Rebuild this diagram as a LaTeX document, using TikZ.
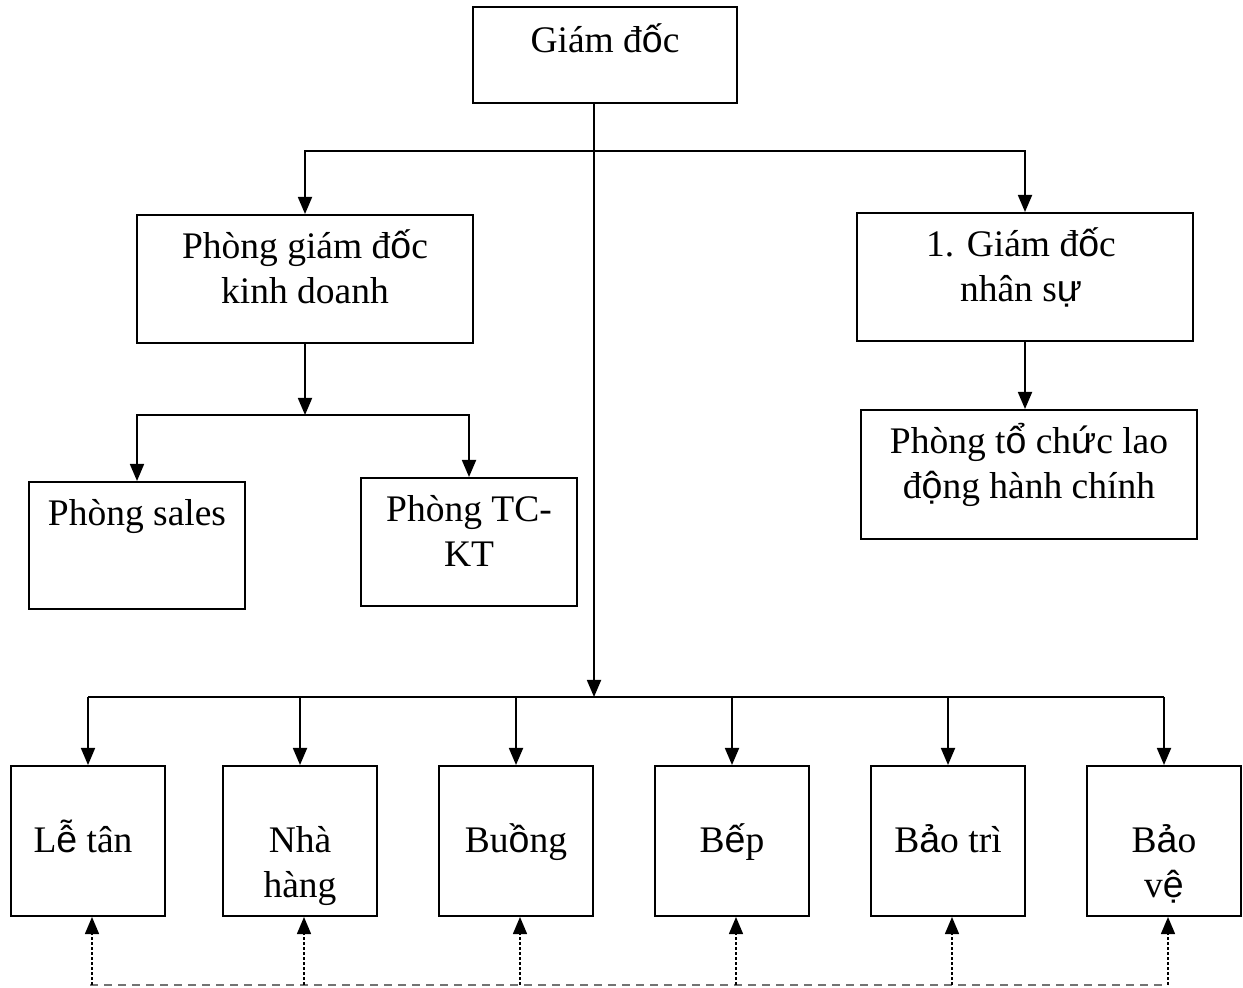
\documentclass[tikz,border=0pt]{standalone}
\usepackage{fontspec}
\setmainfont{Liberation Serif}
\newfontfamily\vnsans{Liberation Sans}
% precomposed vowels come out in the sans face
\newcommand{\vn}[1]{{\vnsans#1}}
\usetikzlibrary{arrows.meta}

\begin{document}
\begin{tikzpicture}[x=0.5pt,y=-0.5pt,>={Triangle[width=7pt,length=8.5pt]},line width=0.9pt]
        \tikzstyle{unit}=[rectangle,draw=black,line width=1pt,inner sep=0pt]
        \tikzstyle{wide}=[unit,minimum width=168pt,minimum height=64pt]
        \tikzstyle{small}=[unit,minimum width=108pt,minimum height=64pt]
        \tikzstyle{dept}=[unit,minimum width=77pt,minimum height=75pt]
        \tikzstyle{caption}=[anchor=base,align=center,inner sep=0pt,font=\fontsize{18.75pt}{22.5pt}\selectfont]
        % base of a two line caption sits on its second line
        \tikzstyle{twolines}=[caption,yshift=-22.5pt]
        \tikzstyle{edge}=[draw,->]
        \tikzstyle{link}=[draw,->,line width=0.7pt,dash pattern=on 1.5pt off 1pt]
        \tikzstyle{rail}=[draw=black!55,line width=0.8pt,dash pattern=on 4pt off 3pt]
        \useasboundingbox (0,0) rectangle (1243,988);
       \begin{scope}
         % boxes
         \node [unit,minimum width=132pt,minimum height=48pt] (gd) at (605,55) {};
         \node [wide] (kd) at (305,279) {};
         \node [wide] (ns) at (1025,277) {};
         \node [unit,minimum width=168pt,minimum height=64.5pt] (hc) at (1029,474.5) {};
         \node [unit,minimum width=108pt,minimum height=63.5pt] (sl) at (137,545.5) {};
         \node [small] (kt) at (469,542) {};
         \node [dept] (b1) at (88,841) {};
         \node [dept] (b2) at (300,841) {};
         \node [dept] (b3) at (516,841) {};
         \node [dept] (b4) at (732,841) {};
         \node [dept] (b5) at (948,841) {};
         \node [dept] (b6) at (1164,841) {};
         % texts
         \node [caption] (gd-t) at ([yshift=-23.5pt]gd.north) {Giám đ\vn{ố}c};
         \node [twolines] (kd-t) at ([yshift=-22.5pt]kd.north) {Phòng giám đ\vn{ố}c\\kinh doanh};
         \node [twolines] (ns-t) at ([yshift=-22.5pt,xshift=-2pt]ns.north) {1. Giám đ\vn{ố}c\\nhân s\vn{ự}};
         \node [twolines] (hc-t) at ([yshift=-22.5pt]hc.north) {Phòng t\vn{ổ} ch\vn{ứ}c lao\\đ\vn{ộ}ng hành chính};
         \node [caption] (sl-t) at ([yshift=-22.5pt]sl.north) {Phòng sales};
         \node [twolines] (kt-t) at ([yshift=-22.5pt]kt.north) {Phòng TC-\\KT};
         \node [caption] (b1-t) at ([yshift=-43.5pt,xshift=-2.5pt]b1.north) {L\vn{ễ} tân};
         \node [twolines] (b2-t) at ([yshift=-43.5pt]b2.north) {Nhà\\hàng};
         \node [caption] (b3-t) at ([yshift=-43.5pt]b3.north) {Bu\vn{ồ}ng};
         \node [caption] (b4-t) at ([yshift=-43.5pt]b4.north) {B\vn{ế}p};
         \node [caption] (b5-t) at ([yshift=-43.5pt]b5.north) {B\vn{ả}o trì};
         \node [twolines] (b6-t) at ([yshift=-43.5pt]b6.north) {B\vn{ả}o\\v\vn{ệ}};
         % bus lines
         \coordinate (tb) at (0,151);
         \coordinate (mb) at (0,415);
         \coordinate (bus) at (594,697);
         \coordinate (db) at (0,985);
         \path[edge] (gd.south -| bus) -- (bus);
         \path[draw,<->] (kd.north) -- (kd.north |- tb) -- (ns.north |- tb) -- (ns.north);
         \path[edge] (kd.south) -- (kd.south |- mb);
         \path[draw,<->] (sl.north) -- (sl.north |- mb) -- (kt.north |- mb) -- (kt.north);
         \path[edge] (ns.south) -- (ns.south |- hc.north);
         \path[draw] (b1.north |- bus) -- (b6.north |- bus);
         \foreach \b in {b1,b2,b3,b4,b5,b6}
           \path[edge] (\b.north |- bus) -- (\b.north);
         % dashed links under the departments
         \path[rail] ([xshift=1pt]b1.south |- db) -- ([xshift=2pt]b6.south |- db);
         \foreach \b in {b1,b2,b3,b4,b5,b6}
           \path[link] ([xshift=2pt]\b.south |- db) -- ([xshift=2pt]\b.south);
        \end{scope}
      \end{tikzpicture}
\end{document}
